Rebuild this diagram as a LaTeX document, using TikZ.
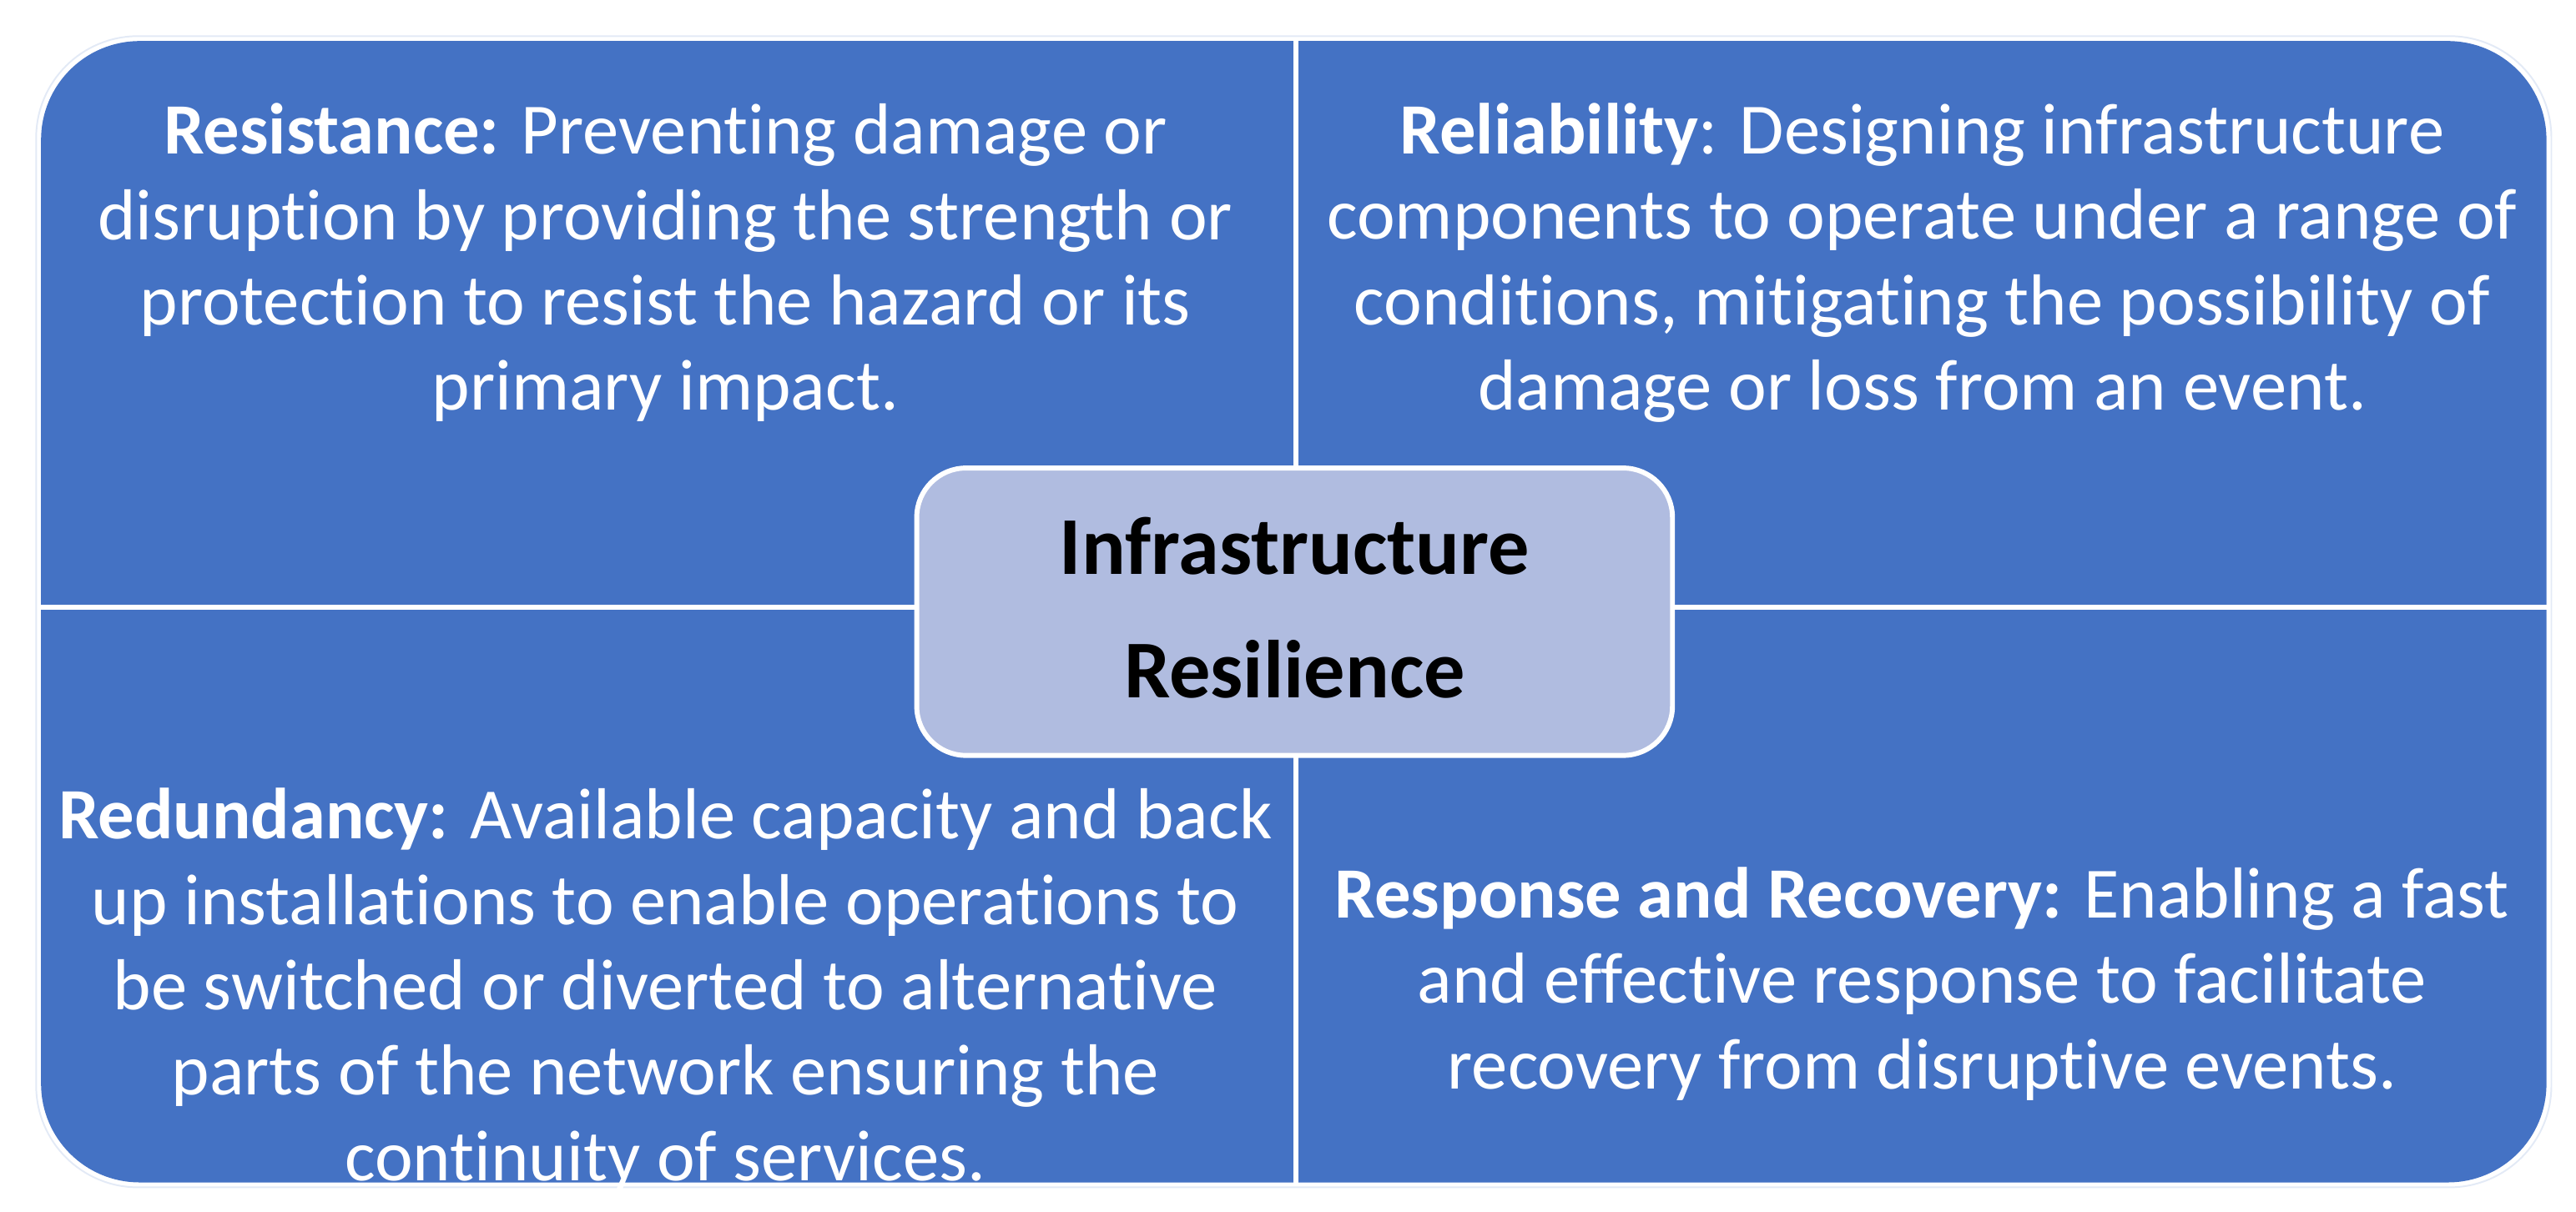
\documentclass[tikz,border=0pt]{standalone}
\usepackage{fontspec}
\setmainfont{Carlito}[Ligatures=NoCommon]
\definecolor{qblue}{HTML}{4472C4}
\definecolor{cfill}{HTML}{B0BCE0}
\begin{document}
\begin{tikzpicture}[x=1pt,y=-1pt,
  qtext/.style={text=white,align=center,font=\fontsize{44}{52}\selectfont,inner sep=0pt},
  ctext/.style={text=black,align=center,font=\bfseries\fontsize{50}{75}\selectfont,inner sep=0pt}]
\useasboundingbox (0,0) rectangle (1568,738);
\draw[qblue!15,line width=1pt,rounded corners=62pt] (22,22) rectangle (1553,723);
\fill[qblue,rounded corners=60pt] (25,25) rectangle (1550,720);
\coordinate (top) at (789,25); \coordinate (bot) at (789,720);
\coordinate (lft) at (25,370); \coordinate (rgt) at (1550,370);
\draw[white,line width=3pt] (top) -- (bot) (lft) -- (rgt);
\node[draw=white,line width=3pt,fill=cfill,rounded corners=30pt,minimum width=460pt,minimum height=175pt] (c) at (788,372.5) {};
\node[ctext] (ct) at (788,370) {Infrastructure\\Resilience};
\node[qtext] (tl) at (405,160) {\textbf{Resistance:} Preventing damage or\\disruption by providing the strength or\\protection to resist the hazard or its\\primary impact.};
\node[qtext] (tr) at (1170,160) {\textbf{Reliability}: Designing infrastructure\\components to operate under a range of\\conditions, mitigating the possibility of\\damage or loss from an event.};
\node[qtext] (bl) at (405,603) {\textbf{Redundancy:} Available capacity and back\\up installations to enable operations to\\be switched or diverted to alternative\\parts of the network ensuring the\\continuity of services.};
\node[qtext] (br) at (1170,599) {\textbf{Response and Recovery:} Enabling a fast\\and effective response to facilitate\\recovery from disruptive events.};
\end{tikzpicture}
\end{document}
